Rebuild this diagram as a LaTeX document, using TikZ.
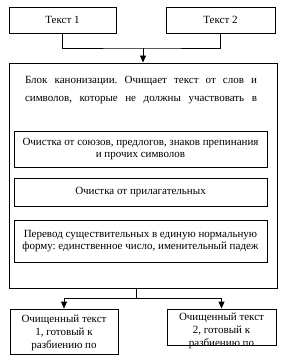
\documentclass[tikz,border=0pt]{standalone}
\usepackage{fontspec}
\setmainfont{Liberation Serif}
\usetikzlibrary{arrows.meta}
\begin{document}
\frenchspacing
\begin{tikzpicture}[x=1pt,y=-1pt,
  box/.style={draw=black, line width=0.9pt, inner sep=0pt, align=center, font=\fontsize{11}{12.8}\selectfont},
  txt/.style={inner sep=0pt, align=center, font=\fontsize{11}{12.8}\selectfont},
  link/.style={draw=black, line width=0.9pt},
  arr/.style={link, -{Triangle[width=6pt,length=7pt]}}]
\useasboundingbox (0,0) rectangle (281,363);
\fill[white] (0,0) rectangle (281,363);
\node[box, minimum width=107, minimum height=26] (t1) at (62.5,20) {Текст 1};
\node[box, minimum width=109, minimum height=26] (t2) at (220.5,20) {Текст 2};
\node[box, minimum width=268, minimum height=225] (big) at (143,175.5) {};
\node[txt, font=\fontsize{11}{18}\selectfont] (bigtxt) at (141,90) {\makebox[232pt][s]{Блок канонизации. Очищает текст от слов и}\\\makebox[232pt][s]{символов, которые не должны участвовать в}};
\node[box, minimum width=253, minimum height=36] (i1) at (140.5,149) {Очистка от союзов, предлогов, знаков препинания\\и прочих символов};
\node[box, minimum width=253, minimum height=28] (i2) at (140.5,192) {Очистка от прилагательных};
\node[box, minimum width=253, minimum height=42] (i3) at (140.5,241) {Перевод существительных в единую нормальную\\форму: единственное число, именительный падеж};
\node[box, minimum width=108, minimum height=45] (b1) at (64,331.5) {};
\node[txt] (b1t) at (64,333) {Очищенный текст\\1, готовый к\\разбиению по};
\node[box, minimum width=109, minimum height=36] (b2) at (221.5,327) {};
\node[txt] (b2t) at (221.5,331) {Очищенный текст\\2, готовый к\\разбиению по};
\coordinate (j1) at (143,48);
\coordinate (j2) at (136,298);
\draw[link] (t1.south) |- (j1) -| (t2.south);
\draw[arr] (j1) -- (big.north);
\draw[link] (big.south -| j2) -- (j2);
\draw[arr] (j2) -| (b1.north);
\draw[arr] (j2) -| (b2.north);
\end{tikzpicture}
\end{document}
